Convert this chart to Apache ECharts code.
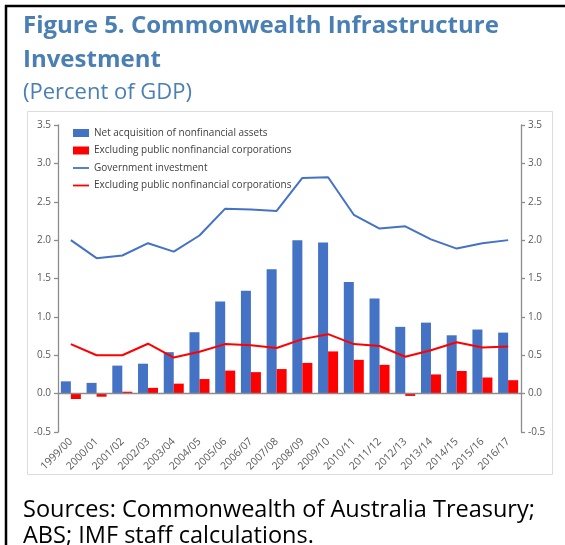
<!DOCTYPE html>
<html>
<head>
<meta charset="utf-8">
<script src="https://cdn.jsdelivr.net/npm/echarts@6/dist/echarts.min.js"></script>
<style>
  html, body { margin: 0; padding: 0; background: #ffffff; }
  #chart { width: 565px; height: 545px; }
</style>
</head>
<body>
<div id="chart"></div>
<script>
// Fiscal years
const years = ['1999/00','2000/01','2001/02','2002/03','2003/04','2004/05','2005/06','2006/07','2007/08',
  '2008/09','2009/10','2010/11','2011/12','2012/13','2013/14','2014/15','2015/16','2016/17'];

// Net acquisition of nonfinancial assets (percent of GDP)
const netAcquisition = [0.16,0.14,0.365,0.39,0.54,0.80,1.20,1.34,1.62,2.00,1.97,1.455,1.24,0.87,0.925,0.76,0.835,0.795];
// Same, excluding public nonfinancial corporations
const netAcqExPNFC = [-0.07,-0.04,0.025,0.075,0.13,0.19,0.30,0.28,0.32,0.40,0.55,0.44,0.375,-0.03,0.25,0.295,0.21,0.175];
// Government investment
const govInvestment = [2.00,1.765,1.80,1.96,1.85,2.06,2.41,2.40,2.38,2.81,2.82,2.33,2.15,2.18,2.01,1.89,1.96,2.00];
// Government investment excluding public nonfinancial corporations
const govInvExPNFC = [0.645,0.50,0.50,0.65,0.47,0.545,0.645,0.63,0.595,0.71,0.775,0.645,0.62,0.48,0.565,0.67,0.60,0.615];

// Value axis
const yMin = -0.5, yMax = 3.5, yStep = 0.5;

const seriesNames = [
  'Net acquisition of nonfinancial assets',
  'Excluding public nonfinancial corporations',
  'Government investment',
  'Excluding public nonfinancial corporations ' // second entry with the same visible label
];

const titleBlue = '#4a7fb3';
const axisGrey = '#8c8c8c';
const labelGrey = '#595959';
const font = 'Open Sans';

// Legend key for the line series: a short horizontal stroke centred in a 16x8 box
const lineKey = 'path://M0,0M0,3.1L16,3.1L16,4.9L0,4.9ZM16,8';

const chart = echarts.init(document.getElementById('chart'), null, { renderer: 'canvas' });

const valueAxis = (pos) => ({
  type: 'value',
  position: pos,
  min: yMin,
  max: yMax,
  interval: yStep,
  axisLine: { show: true, lineStyle: { color: axisGrey, width: 1.3 } },
  axisTick: { show: true, inside: false, length: 4, lineStyle: { color: axisGrey, width: 1.3 } },
  splitLine: { show: false },
  axisLabel: {
    color: labelGrey,
    fontSize: 10,
    fontFamily: font,
    margin: 7,
    formatter: v => v.toFixed(1)
  }
});

chart.setOption({
  animation: false,
  backgroundColor: '#ffffff',
  title: [
    {
      text: 'Figure 5. Commonwealth Infrastructure\nInvestment',
      left: 18, top: 4,
      textStyle: { color: titleBlue, fontSize: 24, fontWeight: 'bold', fontFamily: font, lineHeight: 34 }
    },
    {
      text: '(Percent of GDP)',
      left: 18, top: 74,
      textStyle: { color: titleBlue, fontSize: 22, fontWeight: 'normal', fontFamily: font, lineHeight: 28 }
    },
    {
      text: 'Sources: Commonwealth of Australia Treasury;\nABS; IMF staff calculations.',
      left: 18, top: 492,
      textStyle: { color: '#000000', fontSize: 23.5, fontWeight: 'normal', fontFamily: font, lineHeight: 26 }
    }
  ],
  graphic: [
    { type: 'rect', shape: { x: 27.5, y: 111.5, width: 525, height: 363 },
      style: { fill: 'none', stroke: '#dcdcdc', lineWidth: 1 }, z: 0 },
    { type: 'line', shape: { x1: 6, y1: 5, x2: 6, y2: 545 }, style: { stroke: '#000', lineWidth: 2.5 } },
    { type: 'line', shape: { x1: 5, y1: 6, x2: 565, y2: 6 }, style: { stroke: '#000', lineWidth: 2.5 } }
  ],
  legend: {
    orient: 'vertical',
    left: 73,
    top: 127,
    padding: 0,
    itemWidth: 16,
    itemHeight: 8,
    itemGap: 5.5,
    data: [
      { name: seriesNames[0], icon: 'rect' },
      { name: seriesNames[1], icon: 'rect' },
      { name: seriesNames[2], icon: lineKey },
      { name: seriesNames[3], icon: lineKey }
    ],
    formatter: n => n.trim(),
    textStyle: { color: '#404040', fontSize: 10, fontFamily: font, lineHeight: 12 }
  },
  grid: { left: 58, right: 44, top: 125, height: 307, containLabel: false },
  xAxis: {
    type: 'category',
    data: years,
    boundaryGap: true,
    axisLine: { show: false, onZero: false },
    axisTick: { show: false },
    axisLabel: {
      rotate: 45,
      interval: 0,
      color: labelGrey,
      fontSize: 10.5,
      fontFamily: font,
      margin: 8
    }
  },
  yAxis: [valueAxis('left'), valueAxis('right')],
  series: [
    {
      name: seriesNames[0],
      type: 'bar',
      data: netAcquisition,
      barWidth: 10,
      barGap: '0%',
      itemStyle: { color: '#4472c4' },
      markLine: {
        silent: true,
        symbol: ['none', 'none'],
        label: { show: false },
        lineStyle: { color: axisGrey, type: 'solid', width: 1.3 },
        data: [{ yAxis: 0 }]
      },
      z: 2
    },
    {
      name: seriesNames[1],
      type: 'bar',
      data: netAcqExPNFC,
      barWidth: 10,
      barGap: '0%',
      itemStyle: { color: '#ff0000' },
      z: 2
    },
    {
      name: seriesNames[2],
      type: 'line',
      data: govInvestment,
      symbol: 'none',
      lineStyle: { color: '#4472c4', width: 2 },
      itemStyle: { color: '#4472c4' },
      z: 3
    },
    {
      name: seriesNames[3],
      type: 'line',
      data: govInvExPNFC,
      symbol: 'none',
      lineStyle: { color: '#ff0000', width: 2 },
      itemStyle: { color: '#ff0000' },
      z: 3
    }
  ]
});
</script>
</body>
</html>
